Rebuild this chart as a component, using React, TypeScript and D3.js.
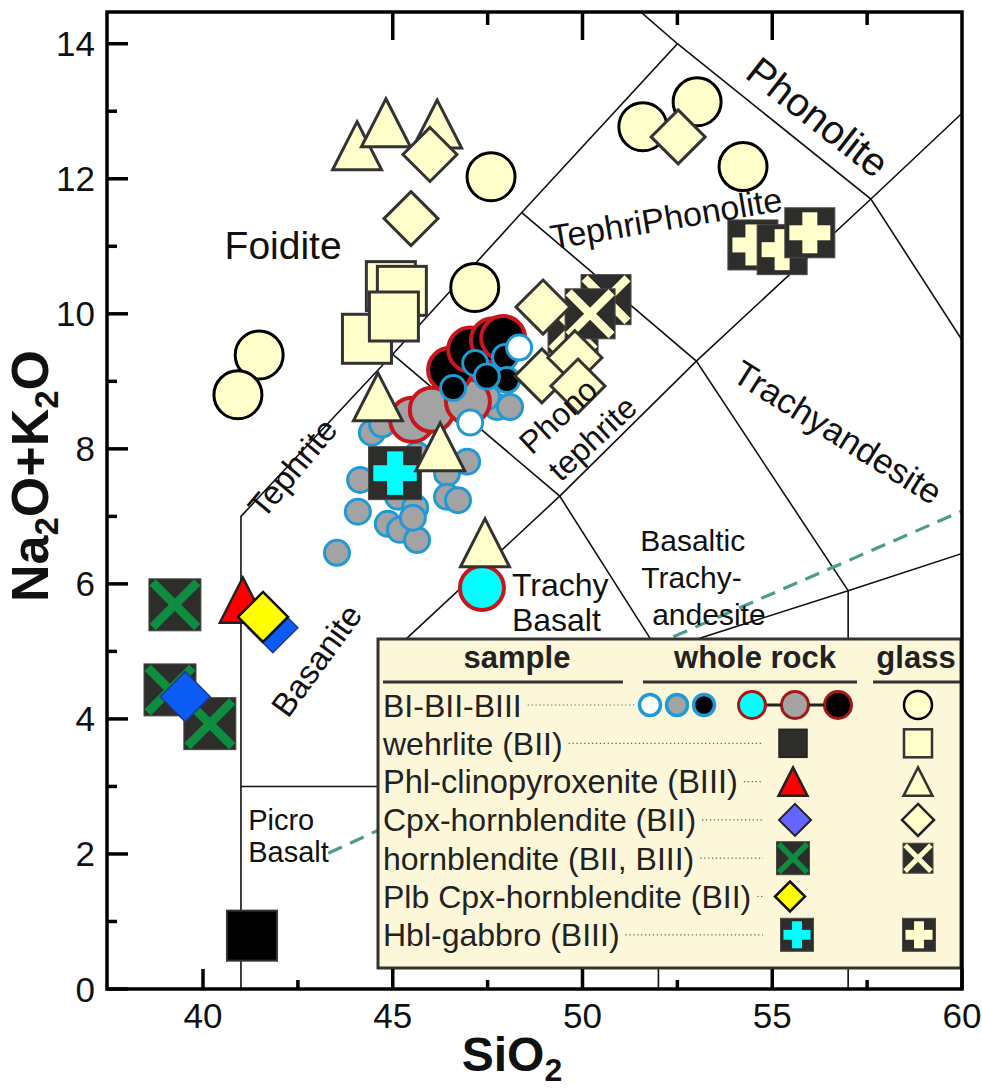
import { useEffect, useRef } from 'react'
import * as d3 from 'd3'

// TAS diagram (Na2O+K2O vs SiO2) with whole-rock and glass compositions
const W = 982
const H = 1092
const FONT = "'Liberation Sans', Arial, Helvetica, sans-serif"

const X_DOMAIN = [37.47, 60]
const Y_DOMAIN = [0, 14.47]
const X_MAJOR = [40, 45, 50, 55, 60]
const X_MINOR = [42.5, 47.5, 52.5, 57.5]
const X_TOP_MAJOR = [45, 50, 55]
const X_TOP_MINOR = [47.5, 52.5, 57.5]
const Y_MAJOR = [0, 2, 4, 6, 8, 10, 12, 14]
const Y_MINOR = [1, 3, 5, 7, 9, 11, 13]

// field boundaries (Le Bas et al. 1986)
const BOUNDARIES: [number, number][][] = [
  [[41, 0], [41, 7], [45, 9.4], [48.4, 11.5], [52.5, 14], [48.4, 16]],
  [[41, 3], [45, 3]],
  [[45, 0], [45, 5], [49.4, 7.3], [53, 9.3], [57.6, 11.7], [61, 13.5]],
  [[45, 9.4], [49.4, 7.3], [52, 5], [52, 0]],
  [[48.4, 11.5], [53, 9.3], [57, 5.9], [57, 0]],
  [[52.5, 14], [57.6, 11.7], [63, 7]],
  [[45, 5], [52, 5], [57, 5.9], [63, 7]],
]
// alkaline / subalkaline divide
const ALKALINE_DIVIDE: [number, number][] = [[43.3, 2.01], [44.61, 2.35], [52.32, 5.2], [60.5, 7.2]]

const REGION_LABELS = [
  { lines: ['Foidite'], at: [42.11, 11.02], angle: 0 },
  { lines: ['Phonolite'], at: [56.21, 12.92], angle: 38 },
  { lines: ['TephriPhonolite'], at: [52.2, 11.42], angle: -9.5 },
  { lines: ['Tephrite'], at: [42.35, 7.72], angle: -50 },
  { lines: ['Basanite'], at: [42.98, 4.87], angle: -54 },
  { lines: ['Phono'], at: [49.35, 8.49], angle: -43 },
  { lines: ['tephrite'], at: [50.25, 8.16], angle: -43 },
  { lines: ['Trachyandesite'], at: [56.73, 8.25], angle: 32 },
  { lines: ['Basaltic', 'Trachy-', 'andesite'], at: [51.52, 6.1], angle: 0 },
  { lines: ['Trachy', 'Basalt'], at: [48.14, 5.73], angle: 0 },
  { lines: ['Picro', 'Basalt'], at: [41.19, 2.27], angle: 0 },
]

// whole rock: BI-BII-BIII small (blue rim) and large (red rim) circles
const WR_SMALL_GRAY: [number, number][] = [
  [43.53, 6.46], [44.45, 8.24], [44.72, 8.36], [44.14, 7.54], [44.08, 7.07], [44.87, 6.89],
  [45.19, 6.8], [45.64, 6.65], [45.14, 7.29], [45.59, 7.13], [45.53, 6.98], [45.64, 7.91],
  [46.43, 7.64], [46.43, 7.29], [46.72, 7.24], [46.96, 7.81], [47.75, 8.62], [48.09, 8.62],
  [47.48, 8.77],
]
const WR_BIG_GRAY: [number, number][] = [[45.51, 8.43], [46.03, 8.58], [46.98, 8.7]]
const WR_BIG_BLACK: [number, number][] = [[46.51, 9.17], [47.04, 9.47], [47.64, 9.61], [47.91, 9.64]]
const WR_BIG_CYAN: [number, number][] = [[47.35, 5.94]]
const WR_SMALL_BLACK: [number, number][] = [[46.59, 8.9], [47.17, 9.27], [47.96, 9.36], [48.01, 9.02], [47.48, 9.07]]
const WR_SMALL_WHITE: [number, number][] = [[48.33, 9.5], [47.04, 8.39]]

const WEHRLITE: [number, number][] = [[41.29, 0.79]]
const PHL_CPX: [number, number][] = [[41.05, 5.76]]
const HORNBLENDITE: [number, number][] = [[39.26, 5.69], [39.13, 4.43], [40.18, 3.93]]
const CPX_HBL: [number, number][] = [[41.84, 5.35], [39.53, 4.33]]
const PLB_CPX_HBL: [number, number][] = [[41.58, 5.51]]
const HBL_GABBRO: [number, number][] = [[45.06, 7.64]]

// glass
const GLASS_CIRCLE: [number, number][] = [
  [47.59, 12.03], [47.16, 10.39], [41.48, 9.39], [40.92, 8.8], [51.59, 12.77], [53.02, 13.14], [54.23, 12.18],
]
const GLASS_SQUARE: [number, number][] = [[44.95, 10.41], [45.24, 10.34], [44.32, 9.63], [45.03, 9.96]]
const GLASS_TRIANGLE: [number, number][] = [
  [44.06, 12.49], [44.82, 12.83], [46.17, 12.81], [44.61, 8.77], [46.25, 8.03], [47.43, 6.61],
]
const GLASS_CROSS: [number, number][] = [[49.75, 9.79], [50.62, 10.21], [50.2, 10.0]]
const GLASS_PLUS: [number, number][] = [[54.49, 11.02], [55.26, 10.95], [55.99, 11.2]]
const GLASS_DIAMOND: [number, number][] = [
  [45.98, 12.36], [45.48, 11.41], [52.52, 12.62], [48.96, 10.1], [48.93, 9.08], [49.8, 9.35], [49.88, 8.93],
]

const LEGEND_HEADERS = ['sample', 'whole rock', 'glass']
const LEGEND_ROWS = [
  'BI-BII-BIII',
  'wehrlite (BII)',
  'Phl-clinopyroxenite (BIII)',
  'Cpx-hornblendite (BII)',
  'hornblendite (BII, BIII)',
  'Plb Cpx-hornblendite (BII)',
  'Hbl-gabbro (BIII)',
]

const CREAM = '#ffffcc'
const DARK = '#2d2d2b'
const BLUE_RIM = '#1f9ad6'
const RED_RIM = '#c8161d'
const GRAY = '#a3a3a3'

type G = d3.Selection<SVGGElement, unknown, null, undefined>

function circle(g: G, cx: number, cy: number, r: number, fill: string, stroke: string, sw: number) {
  g.append('circle').attr('cx', cx).attr('cy', cy).attr('r', r)
    .attr('fill', fill).attr('stroke', stroke).attr('stroke-width', sw)
}
function square(g: G, cx: number, cy: number, s: number, fill: string, stroke: string, sw: number) {
  g.append('rect').attr('x', cx - s / 2).attr('y', cy - s / 2).attr('width', s).attr('height', s)
    .attr('fill', fill).attr('stroke', stroke).attr('stroke-width', sw)
}
function triangle(g: G, cx: number, cy: number, s: number, fill: string, stroke: string, sw: number) {
  const h = s * 0.98
  g.append('path').attr('d', `M${cx},${cy - h / 2}L${cx + s / 2},${cy + h / 2}L${cx - s / 2},${cy + h / 2}Z`)
    .attr('fill', fill).attr('stroke', stroke).attr('stroke-width', sw).attr('stroke-linejoin', 'miter')
}
function diamond(g: G, cx: number, cy: number, a: number, fill: string, stroke: string, sw: number) {
  g.append('path').attr('d', `M${cx},${cy - a}L${cx + a},${cy}L${cx},${cy + a}L${cx - a},${cy}Z`)
    .attr('fill', fill).attr('stroke', stroke).attr('stroke-width', sw)
}
function crossBox(g: G, cx: number, cy: number, s: number, color: string) {
  square(g, cx, cy, s, DARK, '#4a4a46', 1)
  const d = s / 2 - s * 0.07
  g.append('path').attr('d', `M${cx - d},${cy - d}L${cx + d},${cy + d}M${cx + d},${cy - d}L${cx - d},${cy + d}`)
    .attr('stroke', color).attr('stroke-width', s * 0.17).attr('fill', 'none')
}
function plusBox(g: G, cx: number, cy: number, s: number, color: string) {
  square(g, cx, cy, s, DARK, '#4a4a46', 1)
  const len = s * 0.82
  const th = s * 0.3
  g.append('rect').attr('x', cx - len / 2).attr('y', cy - th / 2).attr('width', len).attr('height', th).attr('fill', color)
  g.append('rect').attr('x', cx - th / 2).attr('y', cy - len / 2).attr('width', th).attr('height', len).attr('fill', color)
}

export default function App() {
  const ref = useRef<SVGSVGElement>(null)

  useEffect(() => {
    const svg = d3.select(ref.current)
    svg.selectAll('*').remove()

    const L = 107, R = 962, T = 12, B = 989
    const x = d3.scaleLinear().domain(X_DOMAIN).range([L, R])
    const y = d3.scaleLinear().domain(Y_DOMAIN).range([B, T])

    svg.append('clipPath').attr('id', 'plot-clip')
      .append('rect').attr('x', L).attr('y', T).attr('width', R - L).attr('height', B - T)

    const line = d3.line<[number, number]>().x(d => x(d[0])).y(d => y(d[1]))
    const fields = svg.append('g').attr('clip-path', 'url(#plot-clip)')
    BOUNDARIES.forEach(b => {
      fields.append('path').attr('d', line(b)).attr('fill', 'none')
        .attr('stroke', '#111').attr('stroke-width', 1.6)
    })
    fields.append('path').attr('d', line(ALKALINE_DIVIDE)).attr('fill', 'none')
      .attr('stroke', '#4f9c8c').attr('stroke-width', 3.2).attr('stroke-dasharray', '15,9')

    // markers
    const m = svg.append('g')
    const P = (d: [number, number]) => [x(d[0]), y(d[1])]
    WR_SMALL_GRAY.forEach(d => { const [a, b] = P(d); circle(m, a, b, 12.5, GRAY, BLUE_RIM, 3) })
    WR_BIG_GRAY.forEach(d => { const [a, b] = P(d); circle(m, a, b, 22, GRAY, RED_RIM, 4) })
    WR_BIG_BLACK.forEach(d => { const [a, b] = P(d); circle(m, a, b, 22, '#000', RED_RIM, 4) })
    WR_BIG_CYAN.forEach(d => { const [a, b] = P(d); circle(m, a, b, 22, '#00ffff', RED_RIM, 4) })
    WR_SMALL_BLACK.forEach(d => { const [a, b] = P(d); circle(m, a, b, 12.5, '#000', BLUE_RIM, 3) })
    WR_SMALL_WHITE.forEach(d => { const [a, b] = P(d); circle(m, a, b, 12.5, '#fff', BLUE_RIM, 3) })
    WEHRLITE.forEach(d => { const [a, b] = P(d); square(m, a, b, 50, '#000', '#333', 2) })
    HORNBLENDITE.forEach(d => { const [a, b] = P(d); crossBox(m, a, b, 52, '#0e8c3f') })
    PHL_CPX.forEach(d => { const [a, b] = P(d); triangle(m, a, b, 46, '#ff0000', '#222', 2.5) })
    CPX_HBL.forEach(d => { const [a, b] = P(d); diamond(m, a, b, 25, '#0a5cf5', '#1b3c8c', 1.5) })
    PLB_CPX_HBL.forEach(d => { const [a, b] = P(d); diamond(m, a, b, 25, '#ffff00', '#111', 2.5) })
    HBL_GABBRO.forEach(d => { const [a, b] = P(d); plusBox(m, a, b, 53, '#00ffff') })

    GLASS_CIRCLE.forEach(d => { const [a, b] = P(d); circle(m, a, b, 24, CREAM, '#000', 3) })
    GLASS_SQUARE.forEach(d => { const [a, b] = P(d); square(m, a, b, 49, CREAM, '#333', 3) })
    GLASS_TRIANGLE.forEach(d => { const [a, b] = P(d); triangle(m, a, b, 49, CREAM, '#333', 3) })
    GLASS_CROSS.forEach(d => { const [a, b] = P(d); crossBox(m, a, b, 50, CREAM) })
    GLASS_PLUS.forEach(d => { const [a, b] = P(d); plusBox(m, a, b, 50, CREAM) })
    GLASS_DIAMOND.forEach(d => { const [a, b] = P(d); diamond(m, a, b, 27, CREAM, '#333', 3) })

    // field names (drawn over the symbols): font size / line height / anchor / indent per label
    const labelFont = [39, 40, 34, 33, 33, 32, 32, 35, 30, 32, 29]
    const labelLead = [1, 1, 1, 1, 1, 1, 1, 1, 1.22, 1.09, 1.12]
    const labelStart = [false, false, false, false, false, false, false, false, true, true, true]
    const labelIndent: number[][] = [[], [], [], [], [], [], [], [], [0, 1, 12], [], []]
    const labels = svg.append('g').attr('font-family', FONT).attr('fill', '#111')
    REGION_LABELS.forEach((lb, k) => {
      const px = x(lb.at[0]), py = y(lb.at[1])
      const fs = labelFont[k]
      const lh = fs * labelLead[k]
      const t = labels.append('text')
        .attr('transform', `translate(${px},${py}) rotate(${lb.angle})`)
        .attr('text-anchor', labelStart[k] ? 'start' : 'middle')
        .attr('font-size', fs)
      lb.lines.forEach((s, i) => {
        t.append('tspan').attr('x', labelIndent[k][i] ?? 0)
          .attr('y', (i - (lb.lines.length - 1) / 2) * lh + fs * 0.36)
          .text(s)
      })
    })

    // legend
    const lg = svg.append('g').attr('font-family', FONT)
    const LX0 = 378, LY0 = 639, LX1 = 961, LY1 = 968
    lg.append('rect').attr('x', LX0).attr('y', LY0).attr('width', LX1 - LX0).attr('height', LY1 - LY0)
      .attr('fill', '#fcf7d9').attr('stroke', '#333').attr('stroke-width', 3)
    const headX = [517, 755, 916]
    const ulines = [[383, 623], [643, 857], [873, 961]]
    LEGEND_HEADERS.forEach((h, i) => {
      lg.append('text').attr('x', headX[i]).attr('y', 668).attr('text-anchor', 'middle')
        .attr('font-size', 31).attr('font-weight', 'bold').attr('fill', '#222').text(h)
      lg.append('line').attr('x1', ulines[i][0]).attr('x2', ulines[i][1]).attr('y1', 682).attr('y2', 682)
        .attr('stroke', '#333').attr('stroke-width', 3)
    })
    const colWR = 793, colGL = 918
    const rowY = (i: number) => 705 + i * 38.3
    const lgm = lg.append('g') as unknown as G
    LEGEND_ROWS.forEach((s, i) => {
      const cy = rowY(i)
      const t = lg.append('text').attr('x', 383).attr('y', cy + 11.5)
        .attr('font-size', i === 2 ? 32.6 : 32).attr('fill', '#222').text(s)
      const tw = (t.node() as SVGTextElement).getComputedTextLength()
      const endX = i === 0 ? 636 : 763
      lg.append('line').attr('x1', 383 + tw + 6).attr('x2', endX).attr('y1', cy).attr('y2', cy)
        .attr('stroke', '#666').attr('stroke-width', 1.2).attr('stroke-dasharray', '1.3,2.6')
    })
    // row 0
    ;[['#fff', 650], [GRAY, 677], ['#000', 704]].forEach(([f, cx]) =>
      circle(lgm, cx as number, rowY(0), 10.5, f as string, BLUE_RIM, 3.5))
    lg.append('path').attr('d', `M767,${rowY(0)}H781M809,${rowY(0)}H824`).attr('stroke', '#222').attr('stroke-width', 3)
    ;[['#00ffff', 752], [GRAY, 795], ['#000', 838]].forEach(([f, cx]) =>
      circle(lgm, cx as number, rowY(0), 13.5, f as string, '#a51616', 3))
    circle(lgm, colGL, rowY(0), 14, CREAM, '#000', 2.5)
    // row 1
    square(lgm, colWR, rowY(1), 28, DARK, '#222', 1.5)
    square(lgm, colGL, rowY(1), 28, CREAM, '#333', 2.5)
    // row 2
    triangle(lgm, colWR, rowY(2), 29, '#ff0000', '#222', 2.5)
    triangle(lgm, colGL, rowY(2), 29, CREAM, '#333', 2.5)
    // row 3
    diamond(lgm, colWR + 2, rowY(3), 16, '#6464ff', '#222', 2)
    diamond(lgm, colGL, rowY(3), 16, CREAM, '#222', 2.5)
    // row 4
    crossBox(lgm, colWR, rowY(4), 33, '#0e8c3f')
    crossBox(lgm, colGL, rowY(4), 30, CREAM)
    // row 5
    diamond(lgm, colWR - 3, rowY(5), 15, '#ffff00', '#111', 2.5)
    // row 6
    plusBox(lgm, colWR + 4, rowY(6), 33, '#00ffff')
    plusBox(lgm, colGL + 1, rowY(6), 33, CREAM)

    // axes frame and inward ticks
    const ax = svg.append('g').attr('stroke', '#000').attr('stroke-width', 3.5)
    ax.append('path').attr('d', `M${L},${T}H${R}V${B}H${L}Z`).attr('fill', 'none').attr('stroke-linejoin', 'miter')
    Y_MAJOR.forEach(v => ax.append('line').attr('x1', L).attr('x2', L + 21).attr('y1', y(v)).attr('y2', y(v)))
    Y_MINOR.forEach(v => ax.append('line').attr('x1', L).attr('x2', L + 10).attr('y1', y(v)).attr('y2', y(v)))
    X_MAJOR.forEach(v => ax.append('line').attr('x1', x(v)).attr('x2', x(v)).attr('y1', B).attr('y2', B - 20))
    X_MINOR.forEach(v => ax.append('line').attr('x1', x(v)).attr('x2', x(v)).attr('y1', B).attr('y2', B - 9))
    X_TOP_MAJOR.forEach(v => ax.append('line').attr('x1', x(v)).attr('x2', x(v)).attr('y1', T).attr('y2', T + 28))
    X_TOP_MINOR.forEach(v => ax.append('line').attr('x1', x(v)).attr('x2', x(v)).attr('y1', T).attr('y2', T + 13))

    const tl = svg.append('g').attr('font-family', FONT).attr('font-size', 35).attr('fill', '#111')
    Y_MAJOR.forEach(v => tl.append('text').attr('x', 95).attr('y', y(v) + 12.5).attr('text-anchor', 'end').text(v))
    X_MAJOR.forEach(v => tl.append('text').attr('x', x(v)).attr('y', 1028).attr('text-anchor', 'middle').text(v))

    // axis titles
    const xt = svg.append('text').attr('x', 512).attr('y', 1071).attr('text-anchor', 'middle')
      .attr('font-family', FONT).attr('font-weight', 'bold').attr('font-size', 48).attr('fill', '#111')
    xt.append('tspan').text('SiO')
    xt.append('tspan').attr('font-size', 32).attr('dy', 10).text('2')

    const yt = svg.append('text').attr('transform', 'translate(48,476) rotate(-90)').attr('text-anchor', 'middle')
      .attr('font-family', FONT).attr('font-weight', 'bold').attr('font-size', 52).attr('fill', '#111')
    yt.append('tspan').text('Na')
    yt.append('tspan').attr('font-size', 33).attr('dy', 10).text('2')
    yt.append('tspan').attr('dy', -10).text('O+K')
    yt.append('tspan').attr('font-size', 33).attr('dy', 10).text('2')
    yt.append('tspan').attr('dy', -10).text('O')
  }, [])

  return <svg ref={ref} width={W} height={H} style={{ position: 'absolute', left: 0, top: 0, background: '#fff' }} />
}
